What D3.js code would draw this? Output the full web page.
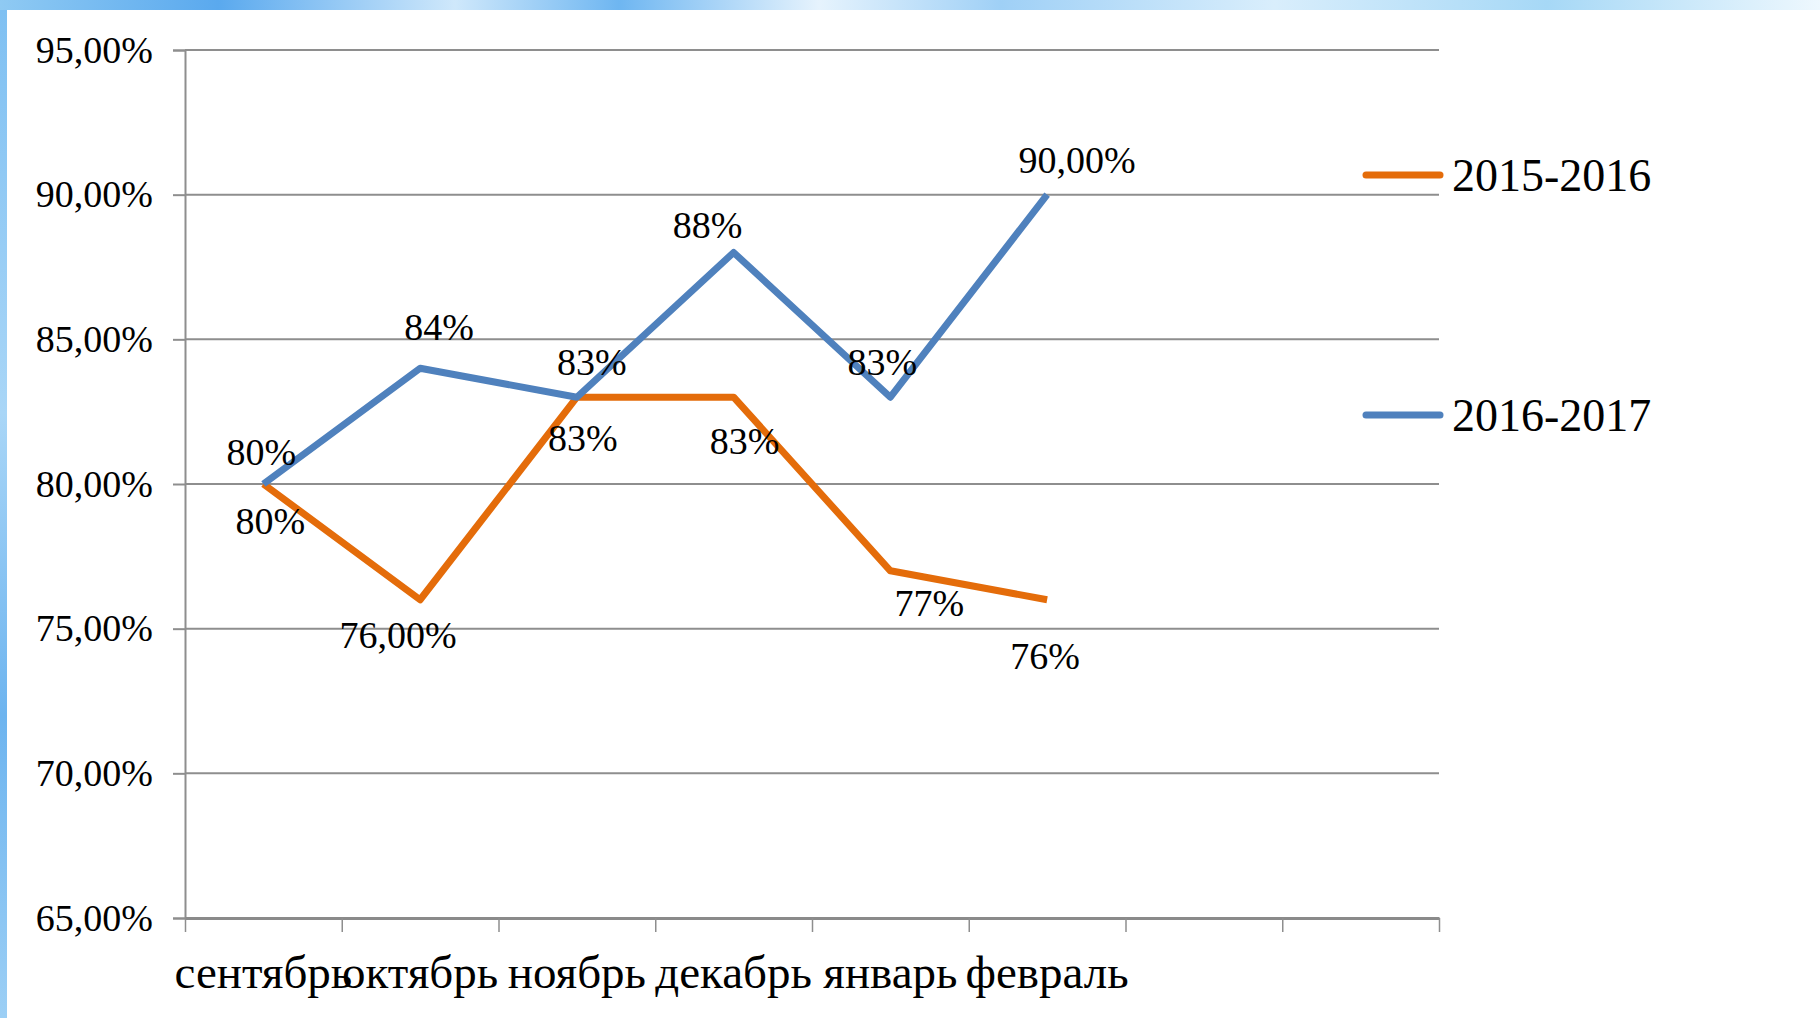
<!DOCTYPE html>
<html>
<head>
<meta charset="utf-8">
<script src="https://cdn.jsdelivr.net/npm/d3@7"></script>
<style>
  html, body { margin: 0; padding: 0; background: #fff; }
  svg { display: block; }
  text { font-family: "Liberation Serif", "Times New Roman", serif; fill: #000; }
</style>
</head>
<body>
<div id="chart"></div>
<script>
// data
const months = ["сентябрь", "октябрь", "ноябрь", "декабрь", "январь", "февраль"];
const slots = 8; // axis has 8 category slots, last two empty
const seriesNames = ["2015-2016", "2016-2017"];
const values2015 = [80, 76, 83, 83, 77, 76];
const values2016 = [80, 84, 83, 88, 83, 90];
const labels2015 = ["80%", "76,00%", "83%", "83%", "77%", "76%"];
const labels2016 = ["80%", "84%", "83%", "88%", "83%", "90,00%"];
const yTicks = [65, 70, 75, 80, 85, 90, 95];

// label placement relative to point (dx, dy)
const offsets2015 = [[7, 37], [-22, 35], [6, 41], [11, 44], [39, 32], [-2, 56]];
const offsets2016 = [[-2, -32], [19, -41], [15, -35], [-26, -28], [-8, -35], [30, -35]];

const colors = ["#E46C0A", "#4F81BD"];

const width = 1820, height = 1018;

const svg = d3.select("#chart")
  .append("svg")
  .attr("width", width)
  .attr("height", height);

// decorative background frame
const defs = svg.append("defs");
const grad = defs.append("linearGradient").attr("id", "band");
[["0%", "#8fcaf3"], ["12%", "#5aa9ee"], ["25%", "#cfe8fb"], ["34%", "#6eb6f1"],
 ["45%", "#e6f3fd"], ["55%", "#9fd0f6"], ["70%", "#d9eefc"], ["85%", "#a6d8f6"], ["100%", "#eef8fe"]]
  .forEach(function (s) {
    grad.append("stop").attr("offset", s[0]).attr("stop-color", s[1]);
  });
const gradV = defs.append("linearGradient").attr("id", "side")
  .attr("x1", 0).attr("y1", 0).attr("x2", 0).attr("y2", 1);
[["0%", "#7fc0f2"], ["40%", "#a9d6f7"], ["70%", "#6db4ef"], ["100%", "#9ccff5"]]
  .forEach(function (s) {
    gradV.append("stop").attr("offset", s[0]).attr("stop-color", s[1]);
  });

svg.append("rect").attr("width", width).attr("height", 10).attr("fill", "url(#band)");
svg.append("rect").attr("y", 10).attr("width", 7).attr("height", height - 10).attr("fill", "url(#side)");

// scales
const x = d3.scaleLinear().domain([0, slots]).range([185, 1439]);
const y = d3.scaleLinear().domain([65, 95]).range([918, 50]);

// gridlines
svg.append("g")
  .selectAll("line")
  .data(yTicks.filter(function (d) { return d !== 65; }))
  .enter()
  .append("line")
  .attr("x1", x(0))
  .attr("x2", x(slots))
  .attr("y1", function (d) { return y(d); })
  .attr("y2", function (d) { return y(d); })
  .attr("stroke", "#8e8e8e")
  .attr("stroke-width", 2);

// y axis
const yAxis = svg.append("g")
  .attr("transform", "translate(" + x(0) + ",0)")
  .call(d3.axisLeft(y)
    .tickValues(yTicks)
    .tickSize(12)
    .tickPadding(20)
    .tickFormat(function (d) { return d.toFixed(2).replace(".", ",") + "%"; }));
yAxis.select(".domain").attr("stroke", "#8e8e8e").attr("stroke-width", 2);
yAxis.selectAll(".tick line").attr("stroke", "#8e8e8e").attr("stroke-width", 2);
yAxis.selectAll(".tick text")
  .attr("font-size", 38)
  .attr("font-family", "Liberation Serif")
  .attr("fill", "#000");

// x axis
const xAxis = svg.append("g")
  .attr("transform", "translate(0," + y(65) + ")")
  .call(d3.axisBottom(x)
    .tickValues(d3.range(slots + 1))
    .tickSize(14)
    .tickSizeOuter(0)
    .tickFormat(""));
xAxis.select(".domain").attr("stroke", "#8a8a8a").attr("stroke-width", 3);
xAxis.selectAll(".tick line").attr("stroke", "#8e8e8e").attr("stroke-width", 1.5);

svg.append("g")
  .selectAll("text")
  .data(months)
  .enter()
  .append("text")
  .attr("x", function (d, i) { return x(i + 0.5); })
  .attr("y", 988)
  .attr("text-anchor", "middle")
  .attr("font-size", 47)
  .text(function (d) { return d; });

// lines
const line = d3.line()
  .x(function (d, i) { return x(i + 0.5); })
  .y(function (d) { return y(d); });

const series = [
  { name: seriesNames[0], values: values2015, labels: labels2015, offsets: offsets2015, color: colors[0] },
  { name: seriesNames[1], values: values2016, labels: labels2016, offsets: offsets2016, color: colors[1] }
];

series.forEach(function (s) {
  svg.append("path")
    .datum(s.values)
    .attr("d", line)
    .attr("fill", "none")
    .attr("stroke", s.color)
    .attr("stroke-width", 7)
    .attr("stroke-linejoin", "round");
});

series.forEach(function (s) {
  svg.append("g")
    .selectAll("text")
    .data(s.values)
    .enter()
    .append("text")
    .attr("x", function (d, i) { return x(i + 0.5) + s.offsets[i][0]; })
    .attr("y", function (d, i) { return y(d) + s.offsets[i][1]; })
    .attr("text-anchor", "middle")
    .attr("dominant-baseline", "central")
    .attr("font-size", 38)
    .text(function (d, i) { return s.labels[i]; });
});

// legend
const legendY = [175, 415];
const legend = svg.append("g")
  .selectAll("g")
  .data(series)
  .enter()
  .append("g")
  .attr("transform", function (d, i) { return "translate(0," + legendY[i] + ")"; });

legend.append("line")
  .attr("x1", 1366)
  .attr("x2", 1440)
  .attr("stroke", function (d) { return d.color; })
  .attr("stroke-width", 7)
  .attr("stroke-linecap", "round");

legend.append("text")
  .attr("x", 1452)
  .attr("dominant-baseline", "central")
  .attr("font-size", 46)
  .text(function (d) { return d.name; });
</script>
</body>
</html>
